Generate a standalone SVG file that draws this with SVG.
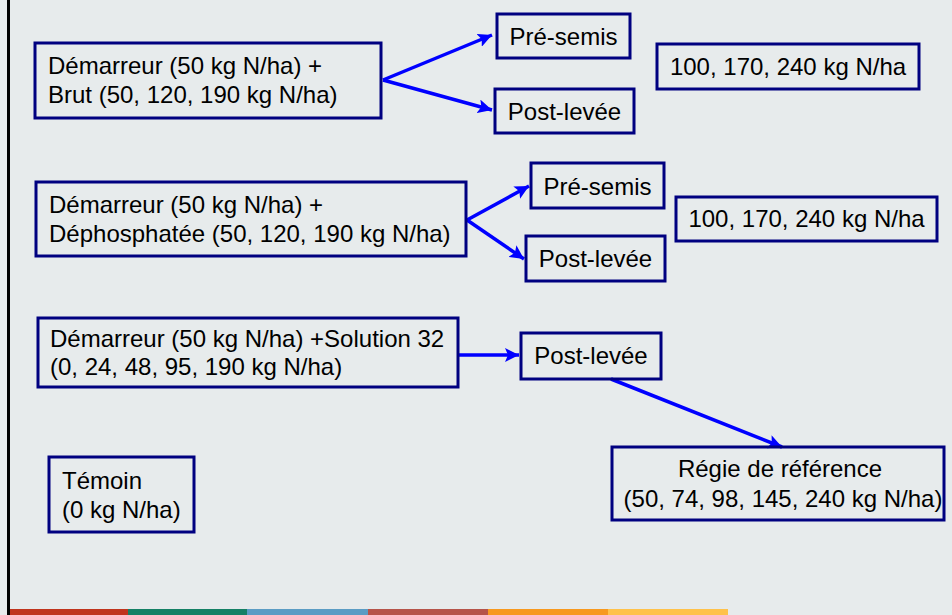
<svg xmlns="http://www.w3.org/2000/svg" width="952" height="615" viewBox="0 0 952 615">
<style>
.box{fill:none;stroke:#000080;stroke-width:3}
.t{font-family:"Liberation Sans",Arial,sans-serif;font-size:24px;fill:#000}
.c{text-anchor:middle}
.arr{stroke:#0000ff;stroke-width:3.5;fill:none;marker-end:url(#ah)}
</style>
<defs>
<marker id="ah" markerUnits="userSpaceOnUse" markerWidth="16" markerHeight="14" refX="14" refY="7" orient="auto">
<path d="M0,0 L14,7 L0,14 L3,7 Z" fill="#0000ff"/>
</marker>
</defs>
<rect x="0" y="0" width="952" height="615" fill="#e7ebec"/>
<line x1="8.5" y1="0" x2="8.5" y2="615" stroke="#000" stroke-width="3"/>
<g id="bar">
<rect x="10" y="609" width="118" height="6" fill="#c0341d"/>
<rect x="128" y="609" width="119" height="6" fill="#158065"/>
<rect x="247" y="609" width="121" height="6" fill="#5b9cc4"/>
<rect x="368" y="609" width="120" height="6" fill="#b6544a"/>
<rect x="488" y="609" width="120" height="6" fill="#f7991f"/>
<rect x="608" y="609" width="120" height="6" fill="#ffc24b"/>
</g>
<g id="connectors">
<path class="arr" d="M383,80 L492,35"/>
<path class="arr" d="M383,80 L492,110"/>
<path class="arr" d="M467,220 L529,186"/>
<path class="arr" d="M467,220 L524,259"/>
<path class="arr" d="M459,355 L519,355"/>
<path class="arr" d="M611,379 L782,447"/>
</g>
<g id="brut">
<rect class="box" x="35" y="43" width="346" height="75"/>
<text class="t" x="48" y="74">Démarreur (50 kg N/ha) +</text>
<text class="t" x="48" y="103">Brut (50, 120, 190 kg N/ha)</text>
</g>
<g id="presemis1">
<rect class="box" x="497" y="14" width="133" height="44"/>
<text class="t c" x="563.5" y="45">Pré-semis</text>
</g>
<g id="postlevee1">
<rect class="box" x="495" y="89" width="139" height="44"/>
<text class="t c" x="564.5" y="120">Post-levée</text>
</g>
<g id="doses1">
<rect class="box" x="657" y="44" width="262" height="45"/>
<text class="t c" x="788" y="75">100, 170, 240 kg N/ha</text>
</g>
<g id="dephos">
<rect class="box" x="36" y="182" width="430" height="74"/>
<text class="t" x="49" y="213">Démarreur (50 kg N/ha) +</text>
<text class="t" x="49" y="242">Déphosphatée (50, 120, 190 kg N/ha)</text>
</g>
<g id="presemis2">
<rect class="box" x="531" y="163" width="133" height="45"/>
<text class="t c" x="597.5" y="195">Pré-semis</text>
</g>
<g id="postlevee2">
<rect class="box" x="526" y="236" width="139" height="45"/>
<text class="t c" x="595.5" y="267">Post-levée</text>
</g>
<g id="doses2">
<rect class="box" x="676" y="197" width="261" height="44"/>
<text class="t c" x="806.5" y="227">100, 170, 240 kg N/ha</text>
</g>
<g id="solution32">
<rect class="box" x="38" y="318" width="420" height="69"/>
<text class="t" x="50" y="347">Démarreur (50 kg N/ha) +Solution 32</text>
<text class="t" x="50" y="375">(0, 24, 48, 95, 190 kg N/ha)</text>
</g>
<g id="postlevee3">
<rect class="box" x="521" y="333" width="140" height="46"/>
<text class="t c" x="591" y="364">Post-levée</text>
</g>
<g id="regie">
<rect class="box" x="612" y="447" width="332" height="73"/>
<text class="t c" x="780" y="477">Régie de référence</text>
<text class="t c" x="783" y="507">(50, 74, 98, 145, 240 kg N/ha)</text>
</g>
<g id="temoin">
<rect class="box" x="49" y="457" width="145" height="75"/>
<text class="t" x="62" y="489">Témoin</text>
<text class="t" x="62" y="518">(0 kg N/ha)</text>
</g>
</svg>
